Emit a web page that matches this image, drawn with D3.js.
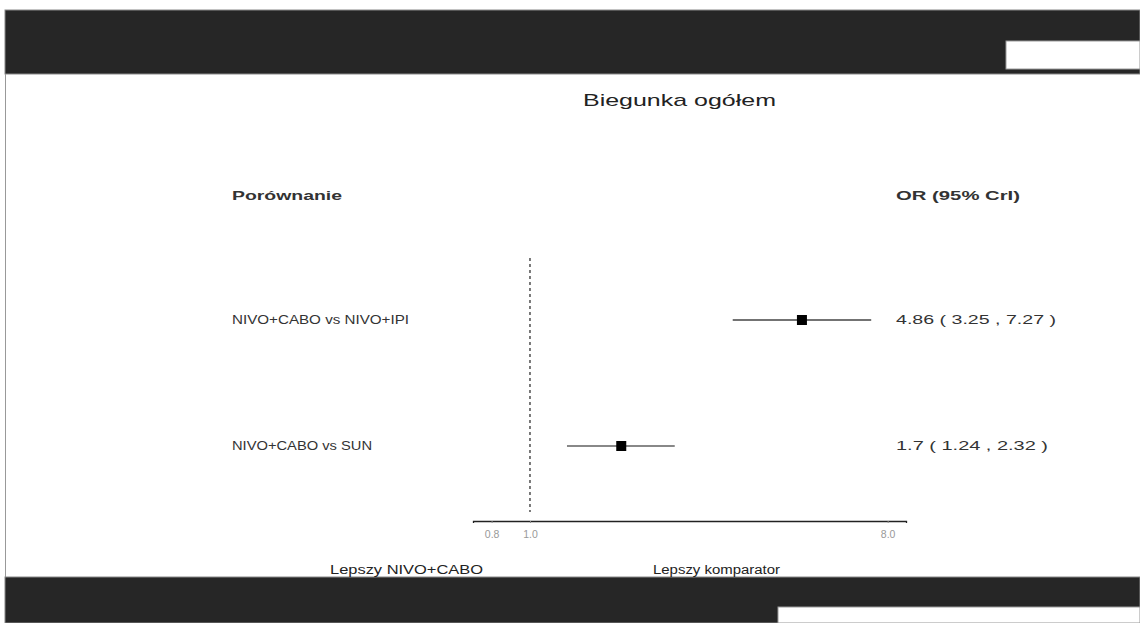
<!DOCTYPE html>
<html>
<head>
<meta charset="utf-8">
<script src="https://cdn.jsdelivr.net/npm/d3@7"></script>
<style>
  body { margin: 0; background: #fff; }
  svg { display: block; font-family: "Liberation Sans", Arial, sans-serif; }
</style>
</head>
<body>
<svg id="chart" width="1140" height="623"></svg>
<script>
// data
var comparisons = ["NIVO+CABO vs NIVO+IPI", "NIVO+CABO vs SUN"];
var orValues = [4.86, 1.7];
var lowerCrI = [3.25, 1.24];
var upperCrI = [7.27, 2.32];
var orLabels = ["4.86 ( 3.25 , 7.27 )", "1.7 ( 1.24 , 2.32 )"];
var tickValues = [0.8, 1.0, 8.0];

var svg = d3.select("#chart");

// the reference text is stretched sideways, so fit each string to its width
function stretch(sel, w) {
  sel.attr("textLength", w).attr("lengthAdjust", "spacingAndGlyphs");
  return sel;
}

// frame bands (screenshot chrome)
svg.append("rect").attr("x", 5).attr("y", 10).attr("width", 1135).attr("height", 64)
  .attr("fill", "#262626").attr("stroke", "#888").attr("stroke-width", 1);
svg.append("rect").attr("x", 1006).attr("y", 41).attr("width", 134).attr("height", 28)
  .attr("fill", "#fff").attr("stroke", "#999");
svg.append("line").attr("x1", 5.5).attr("x2", 5.5).attr("y1", 74).attr("y2", 577)
  .attr("stroke", "#999");
svg.append("rect").attr("x", 5).attr("y", 577).attr("width", 1135).attr("height", 46)
  .attr("fill", "#262626").attr("stroke", "#888");
svg.append("rect").attr("x", 778).attr("y", 607).attr("width", 362).attr("height", 16)
  .attr("fill", "#fff").attr("stroke", "#999");

// title
stretch(svg.append("text").attr("x", 583).attr("y", 106)
  .attr("font-size", 17).attr("fill", "#222").text("Biegunka ogółem"), 193);

// headers
stretch(svg.append("text").attr("x", 232).attr("y", 200).attr("font-size", 12)
  .attr("font-weight", "bold").attr("fill", "#333").text("Porównanie"), 110);
stretch(svg.append("text").attr("x", 896).attr("y", 200).attr("font-size", 12)
  .attr("font-weight", "bold").attr("fill", "#333").text("OR (95% CrI)"), 124);

var x = d3.scaleLog().domain([0.718, 8.9]).range([473, 906]);
var y = d3.scalePoint().domain(comparisons).range([320, 446]);

// reference line at 1
svg.append("line").attr("x1", x(1)).attr("x2", x(1)).attr("y1", 258).attr("y2", 512)
  .attr("stroke", "#222").attr("stroke-width", 1.2).attr("stroke-dasharray", "3,3");

// axis
var axis = d3.axisBottom(x).tickValues(tickValues).tickSize(2).tickPadding(8)
  .tickFormat(d3.format(".1f"));
var gAxis = svg.append("g").attr("transform", "translate(0,521)").call(axis);
gAxis.select(".domain").attr("stroke", "#222").attr("stroke-width", 1.3);
gAxis.selectAll(".tick line").attr("stroke", "#888");
gAxis.selectAll(".tick text").attr("fill", "#999").attr("font-size", 10.5)
  .attr("font-family", "Liberation Sans, Arial, sans-serif");

// rows
var labelWidths = [177, 140];
var orWidths = [160, 152];
var rows = svg.selectAll("g.row").data(comparisons).enter().append("g")
  .attr("class", "row");

rows.append("text").attr("x", 232).attr("y", function(d) { return y(d) + 4; })
  .attr("font-size", 12).attr("fill", "#333")
  .attr("textLength", function(d, i) { return labelWidths[i]; })
  .attr("lengthAdjust", "spacingAndGlyphs")
  .text(function(d) { return d; });

rows.append("line")
  .attr("x1", function(d, i) { return x(lowerCrI[i]); })
  .attr("x2", function(d, i) { return x(upperCrI[i]); })
  .attr("y1", function(d) { return y(d); })
  .attr("y2", function(d) { return y(d); })
  .attr("stroke", function(d, i) { return i === 0 ? "#444" : "#888"; })
  .attr("stroke-width", function(d, i) { return i === 0 ? 1.3 : 2; });

rows.append("rect")
  .attr("x", function(d, i) { return x(orValues[i]) - 5; })
  .attr("y", function(d) { return y(d) - 5; })
  .attr("width", 10).attr("height", 10).attr("fill", "#000");

rows.append("text").attr("x", 896).attr("y", function(d) { return y(d) + 4; })
  .attr("font-size", 12).attr("fill", "#333")
  .attr("textLength", function(d, i) { return orWidths[i]; })
  .attr("lengthAdjust", "spacingAndGlyphs")
  .text(function(d, i) { return orLabels[i]; });

// direction labels
stretch(svg.append("text").attr("x", 330).attr("y", 574)
  .attr("font-size", 12).attr("fill", "#222").text("Lepszy NIVO+CABO"), 153);
stretch(svg.append("text").attr("x", 653).attr("y", 574)
  .attr("font-size", 12).attr("fill", "#222").text("Lepszy komparator"), 127);
</script>
</body>
</html>
